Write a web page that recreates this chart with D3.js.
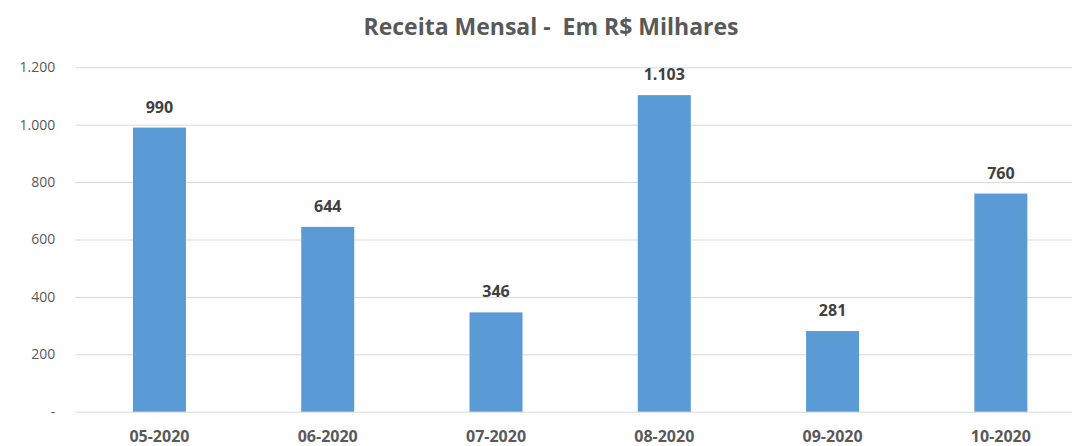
<!DOCTYPE html>
<html>
<head>
<meta charset="utf-8">
<script src="https://cdn.jsdelivr.net/npm/d3@7"></script>
<style>
  body { margin: 0; background: #fff; }
  svg { display: block; font-family: 'Open Sans', sans-serif; }
</style>
</head>
<body>
<div class="chart"></div>
<script>
let width = 1072;
let height = 446;

let months = ['05-2020', '06-2020', '07-2020', '08-2020', '09-2020', '10-2020'];
let receita = [990, 644, 346, 1103, 281, 760];
let yTicks = [0, 200, 400, 600, 800, 1000, 1200];

let plotLeft = 75.3;
let plotRight = 1085;
let plotTop = 67.3;
let plotBottom = 411.7;

let svg = d3.select('.chart')
            .append('svg')
            .attr('width', width)
            .attr('height', height);

let xScale = d3.scaleBand()
               .domain(months)
               .range([plotLeft, plotRight])
               .paddingInner(0.685)
               .paddingOuter(0.3425);
let yScale = d3.scaleLinear()
               .domain([0, 1200])
               .range([plotBottom, plotTop]);

// formato pt-BR: 1.200, zero como "-"
let fmt = v => v === 0 ? '-' : d3.format(',')(v).replace(/,/g, '.');

svg.append('text')
   .attr('x', 551)
   .attr('y', 35)
   .attr('text-anchor', 'middle')
   .style('font-size', '23px')
   .style('font-weight', 'bold')
   .style('white-space', 'pre')
   .style('fill', '#595959')
   .text('Receita Mensal -  Em R$ Milhares');

let yAxis = d3.axisLeft(yScale)
              .tickValues(yTicks)
              .tickSize(-(plotRight - plotLeft))
              .tickPadding(20)
              .tickFormat(fmt);
let gy = svg.append('g')
   .attr('transform', 'translate(' + plotLeft + ',0)')
   .call(yAxis);
gy.select('.domain').remove();
gy.selectAll('line').attr('stroke', '#d9d9d9');
gy.selectAll('text')
  .style('font-size', '14px')
  .style('fill', '#595959')
  .style('font-family', 'Open Sans, sans-serif');

let xAxis = d3.axisBottom(xScale).tickSize(0).tickPadding(19);
let gx = svg.append('g')
   .attr('transform', 'translate(0,' + plotBottom + ')')
   .call(xAxis);
gx.select('.domain').remove();
gx.selectAll('text')
  .style('font-size', '16px')
  .style('font-weight', 'bold')
  .style('fill', '#595959')
  .style('font-family', 'Open Sans, sans-serif');

svg.selectAll('rect.bar')
   .data(receita)
   .enter()
   .append('rect')
   .attr('class', 'bar')
   .attr('x', (d, i) => xScale(months[i]))
   .attr('width', xScale.bandwidth())
   .attr('y', d => yScale(d))
   .attr('height', d => plotBottom - yScale(d))
   .attr('fill', '#5b9bd5');

svg.selectAll('text.lbl')
   .data(receita)
   .enter()
   .append('text')
   .attr('class', 'lbl')
   .attr('x', (d, i) => xScale(months[i]) + xScale.bandwidth() / 2)
   .attr('y', d => yScale(d) - 15)
   .attr('text-anchor', 'middle')
   .style('font-size', '16px')
   .style('font-weight', 'bold')
   .style('fill', '#404040')
   .text(fmt);
</script>
</body>
</html>
